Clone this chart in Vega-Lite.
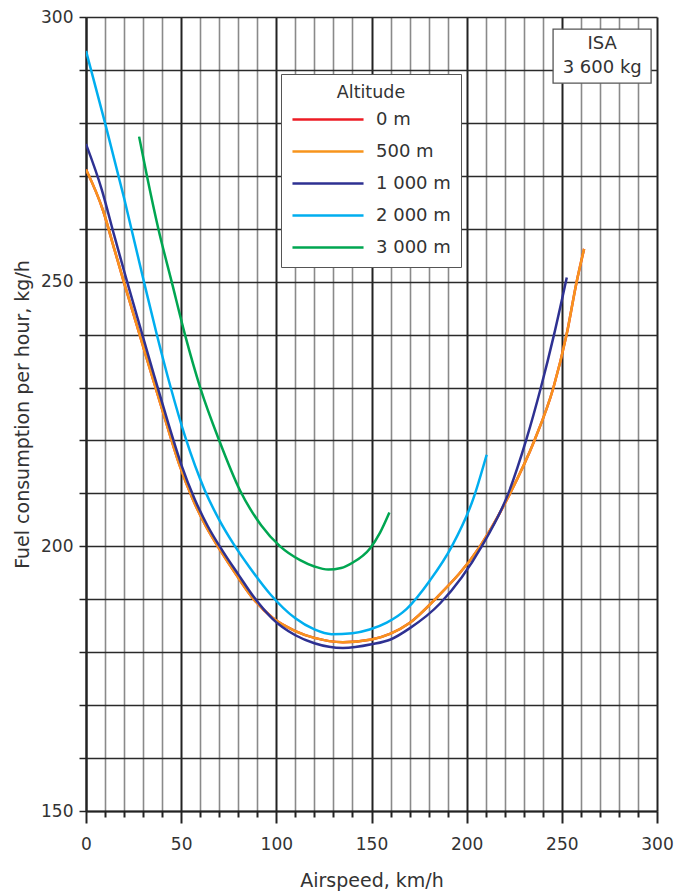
{
  "$schema": "https://vega.github.io/schema/vega-lite/v6.json",
  "width": 571,
  "height": 794,
  "autosize": {"type": "none"},
  "padding": {"left": 86, "top": 17, "right": 25, "bottom": 81},
  "background": "white",
  "config": {
    "font": "DejaVu Sans",
    "view": {"stroke": null},
    "axis": {"labelFont": "DejaVu Sans", "titleFont": "DejaVu Sans", "labelColor": "#333", "titleColor": "#333", "labelFontSize": 17, "titleFontSize": 19, "titleFontWeight": "normal"},
    "legend": {"labelFont": "DejaVu Sans", "titleFont": "DejaVu Sans"}
  },
  "datasets": {
    "curves": [
      {"alt": "0 m", "v": 0, "f": 271.2}, {"alt": "0 m", "v": 9, "f": 263.4}, {"alt": "0 m", "v": 15, "f": 256}, {"alt": "0 m", "v": 19.6, "f": 250.3}, {"alt": "0 m", "v": 29, "f": 239}, {"alt": "0 m", "v": 35, "f": 231.8}, {"alt": "0 m", "v": 42, "f": 223.5}, {"alt": "0 m", "v": 49, "f": 215.5}, {"alt": "0 m", "v": 56, "f": 209}, {"alt": "0 m", "v": 63, "f": 203.8}, {"alt": "0 m", "v": 71, "f": 199}, {"alt": "0 m", "v": 79, "f": 194.6}, {"alt": "0 m", "v": 87, "f": 190.5}, {"alt": "0 m", "v": 98, "f": 186.5}, {"alt": "0 m", "v": 110, "f": 184.0}, {"alt": "0 m", "v": 120, "f": 182.7}, {"alt": "0 m", "v": 135, "f": 181.9}, {"alt": "0 m", "v": 150, "f": 182.4}, {"alt": "0 m", "v": 160, "f": 183.5}, {"alt": "0 m", "v": 170, "f": 185.5}, {"alt": "0 m", "v": 183.4, "f": 190}, {"alt": "0 m", "v": 207, "f": 200}, {"alt": "0 m", "v": 222.8, "f": 210}, {"alt": "0 m", "v": 235.6, "f": 220}, {"alt": "0 m", "v": 245.6, "f": 230}, {"alt": "0 m", "v": 252.5, "f": 240}, {"alt": "0 m", "v": 257.8, "f": 250}, {"alt": "0 m", "v": 261.7, "f": 256.2},
      {"alt": "500 m", "v": 0, "f": 271.2}, {"alt": "500 m", "v": 9, "f": 263.4}, {"alt": "500 m", "v": 15, "f": 256}, {"alt": "500 m", "v": 19.6, "f": 250.3}, {"alt": "500 m", "v": 29, "f": 239}, {"alt": "500 m", "v": 35, "f": 231.8}, {"alt": "500 m", "v": 42, "f": 223.5}, {"alt": "500 m", "v": 49, "f": 215.5}, {"alt": "500 m", "v": 56, "f": 209}, {"alt": "500 m", "v": 63, "f": 203.8}, {"alt": "500 m", "v": 71, "f": 199}, {"alt": "500 m", "v": 79, "f": 194.6}, {"alt": "500 m", "v": 87, "f": 190.5}, {"alt": "500 m", "v": 98, "f": 186.5}, {"alt": "500 m", "v": 110, "f": 184.0}, {"alt": "500 m", "v": 120, "f": 182.7}, {"alt": "500 m", "v": 135, "f": 181.9}, {"alt": "500 m", "v": 150, "f": 182.4}, {"alt": "500 m", "v": 160, "f": 183.5}, {"alt": "500 m", "v": 170, "f": 185.5}, {"alt": "500 m", "v": 183.4, "f": 190}, {"alt": "500 m", "v": 207, "f": 200}, {"alt": "500 m", "v": 222.8, "f": 210}, {"alt": "500 m", "v": 235.6, "f": 220}, {"alt": "500 m", "v": 245.6, "f": 230}, {"alt": "500 m", "v": 252.5, "f": 240}, {"alt": "500 m", "v": 257.8, "f": 250}, {"alt": "500 m", "v": 261.7, "f": 256.2},
      {"alt": "1 000 m", "v": 0, "f": 276}, {"alt": "1 000 m", "v": 8.2, "f": 267.5}, {"alt": "1 000 m", "v": 15, "f": 258.5}, {"alt": "1 000 m", "v": 20.8, "f": 251}, {"alt": "1 000 m", "v": 30, "f": 239.5}, {"alt": "1 000 m", "v": 36, "f": 232}, {"alt": "1 000 m", "v": 43, "f": 223.5}, {"alt": "1 000 m", "v": 50, "f": 215.5}, {"alt": "1 000 m", "v": 57, "f": 209}, {"alt": "1 000 m", "v": 64, "f": 203.8}, {"alt": "1 000 m", "v": 72, "f": 199}, {"alt": "1 000 m", "v": 80, "f": 194.7}, {"alt": "1 000 m", "v": 88, "f": 190.5}, {"alt": "1 000 m", "v": 98, "f": 186.3}, {"alt": "1 000 m", "v": 110, "f": 183.2}, {"alt": "1 000 m", "v": 120, "f": 181.7}, {"alt": "1 000 m", "v": 135, "f": 180.8}, {"alt": "1 000 m", "v": 150, "f": 181.5}, {"alt": "1 000 m", "v": 160, "f": 182.4}, {"alt": "1 000 m", "v": 170, "f": 184.5}, {"alt": "1 000 m", "v": 186, "f": 189.2}, {"alt": "1 000 m", "v": 207.9, "f": 200}, {"alt": "1 000 m", "v": 221.9, "f": 210}, {"alt": "1 000 m", "v": 231.2, "f": 220}, {"alt": "1 000 m", "v": 239, "f": 230}, {"alt": "1 000 m", "v": 245.9, "f": 240}, {"alt": "1 000 m", "v": 252.6, "f": 250.8},
      {"alt": "2 000 m", "v": 0, "f": 293.6}, {"alt": "2 000 m", "v": 10, "f": 280}, {"alt": "2 000 m", "v": 20, "f": 265.8}, {"alt": "2 000 m", "v": 30.1, "f": 250.5}, {"alt": "2 000 m", "v": 37, "f": 240.3}, {"alt": "2 000 m", "v": 44.5, "f": 230}, {"alt": "2 000 m", "v": 52, "f": 220.8}, {"alt": "2 000 m", "v": 62.5, "f": 210.5}, {"alt": "2 000 m", "v": 70, "f": 205}, {"alt": "2 000 m", "v": 77.4, "f": 200.5}, {"alt": "2 000 m", "v": 86, "f": 196}, {"alt": "2 000 m", "v": 96.7, "f": 191}, {"alt": "2 000 m", "v": 110, "f": 186.4}, {"alt": "2 000 m", "v": 120, "f": 184.3}, {"alt": "2 000 m", "v": 129, "f": 183.4}, {"alt": "2 000 m", "v": 140, "f": 183.6}, {"alt": "2 000 m", "v": 149, "f": 184.3}, {"alt": "2 000 m", "v": 158, "f": 185.6}, {"alt": "2 000 m", "v": 168.5, "f": 188.2}, {"alt": "2 000 m", "v": 180.8, "f": 193.6}, {"alt": "2 000 m", "v": 192.2, "f": 200}, {"alt": "2 000 m", "v": 203.5, "f": 209}, {"alt": "2 000 m", "v": 210.5, "f": 217.3},
      {"alt": "3 000 m", "v": 27.9, "f": 277.4}, {"alt": "3 000 m", "v": 32, "f": 270}, {"alt": "3 000 m", "v": 38, "f": 260}, {"alt": "3 000 m", "v": 45, "f": 250}, {"alt": "3 000 m", "v": 52, "f": 240}, {"alt": "3 000 m", "v": 60, "f": 230}, {"alt": "3 000 m", "v": 70, "f": 220}, {"alt": "3 000 m", "v": 81, "f": 210.5}, {"alt": "3 000 m", "v": 92, "f": 204}, {"alt": "3 000 m", "v": 102, "f": 200}, {"alt": "3 000 m", "v": 112.5, "f": 197.4}, {"alt": "3 000 m", "v": 120, "f": 196.2}, {"alt": "3 000 m", "v": 127.3, "f": 195.6}, {"alt": "3 000 m", "v": 134, "f": 195.9}, {"alt": "3 000 m", "v": 140, "f": 196.9}, {"alt": "3 000 m", "v": 149.2, "f": 199.6}, {"alt": "3 000 m", "v": 154.5, "f": 202.6}, {"alt": "3 000 m", "v": 159.4, "f": 206.4}
    ]
  },
  "layer": [
    {
      "data": {"name": "curves"},
      "mark": {"type": "line", "strokeWidth": 2.5, "interpolate": "monotone", "clip": true},
      "encoding": {
        "x": {
          "field": "v", "type": "quantitative",
          "scale": {"domain": [0, 300], "nice": false, "zero": false},
          "axis": {
            "values": [0,10,20,30,40,50,60,70,80,90,100,110,120,130,140,150,160,170,180,190,200,210,220,230,240,250,260,270,280,290,300],
            "tickCount": 40,
            "labelExpr": "datum.value % 50 === 0 ? datum.label : ''",
            "title": "Airspeed, km/h",
            "titleX": 285.5, "titleY": 69, "titleBaseline": "middle",
            "domainColor": "#222", "domainWidth": 2,
            "tickColor": "#222", "tickWidth": 2,
            "tickSize": {"condition": {"test": "datum.value % 50 === 0", "value": 12}, "value": 6},
            "labelPadding": 13, "labelFlush": false, "labelOverlap": false,
            "grid": true,
            "gridColor": {"condition": {"test": "datum.value % 50 === 0", "value": "#222"}, "value": "#8a8a8a"},
            "gridWidth": {"condition": {"test": "datum.value % 50 === 0", "value": 2}, "value": 1.6},
            "gridOpacity": 1
          }
        },
        "y": {
          "field": "f", "type": "quantitative",
          "scale": {"domain": [150, 300], "nice": false, "zero": false},
          "axis": {
            "values": [150,160,170,180,190,200,210,220,230,240,250,260,270,280,290,300],
            "tickCount": 40,
            "labelExpr": "datum.value % 50 === 0 ? datum.label : ''",
            "title": "Fuel consumption per hour, kg/h",
            "titleX": -64, "titleY": 397, "titleAngle": -90, "titleBaseline": "middle", "titleAlign": "center",
            "domainColor": "#222", "domainWidth": 2,
            "tickColor": "#222", "tickWidth": 1.5, "tickSize": 7,
            "labelPadding": 6, "labelOverlap": false,
            "grid": true, "gridColor": "#2a2a2a", "gridWidth": 1.3, "gridOpacity": 1
          }
        },
        "color": {
          "field": "alt", "type": "nominal",
          "scale": {"domain": ["0 m", "500 m", "1 000 m", "2 000 m", "3 000 m"], "range": ["#ed1c24", "#f7941d", "#2e3192", "#00aeef", "#00a651"]},
          "legend": {
            "title": "Altitude",
            "orient": "none", "legendX": 195, "legendY": 57,
            "direction": "vertical",
            "symbolType": "M-5,0L5,0", "symbolSize": 202, "symbolStrokeWidth": 2.5,
            "symbolOffset": 28,
            "labelFontSize": 18, "labelColor": "#333", "labelOffset": 39,
            "titleFontSize": 17.5, "titleFontWeight": "normal", "titleColor": "#333",
            "titleAnchor": "middle", "titleAlign": "center", "titlePadding": 9,
            "strokeColor": "#555", "fillColor": "white", "padding": 10,
            "rowPadding": 14
          }
        }
      }
    },
    {
      "data": {"values": [{}]},
      "mark": {"type": "rect", "fill": "white", "stroke": "#555", "strokeWidth": 1.3},
      "encoding": {
        "x": {"datum": 245.4, "type": "quantitative"},
        "x2": {"datum": 296.9},
        "y": {"datum": 297.7, "type": "quantitative"},
        "y2": {"datum": 287.5}
      }
    },
    {
      "data": {"values": [{}]},
      "mark": {"type": "text", "text": ["ISA", "3 600 kg"], "fontSize": 18, "color": "#333", "font": "DejaVu Sans", "lineHeight": 24, "align": "center", "baseline": "middle"},
      "encoding": {
        "x": {"datum": 271.2, "type": "quantitative"},
        "y": {"datum": 294.9, "type": "quantitative"}
      }
    }
  ]
}
